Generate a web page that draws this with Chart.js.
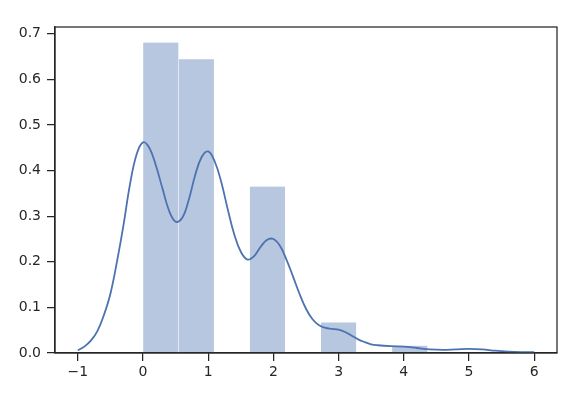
<!DOCTYPE html>
<html>
<head>
<meta charset="utf-8">
<script src="https://cdn.jsdelivr.net/npm/chart.js@4"></script>
<style>
  html, body { margin: 0; padding: 0; background: #fff; }
  #wrap { width: 586px; height: 400px; }
</style>
</head>
<body>
<div id="wrap"><canvas id="c" width="586" height="400"></canvas></div>
<script>
// Histogram bins (centres of 11 bins spanning 0..6) and densities
const binCenters = [0.273, 0.818, 1.364, 1.909, 2.455, 3.0, 3.545, 4.091, 4.636, 5.182, 5.727];
const binHeights = [0.681, 0.644, 0, 0.365, 0, 0.067, 0, 0.016, 0, 0, 0];

// KDE curve
const kdeX = [-1.0,-0.9,-0.8,-0.7,-0.6,-0.5,-0.4,-0.3,-0.2,-0.1,0.0,0.1,0.2,0.3,0.4,0.5,0.6,0.7,0.8,0.9,1.0,1.1,1.2,1.3,1.4,1.5,1.6,1.7,1.8,1.9,2.0,2.1,2.2,2.3,2.4,2.5,2.6,2.7,2.8,2.9,3.0,3.1,3.2,3.3,3.4,3.5,3.6,3.8,4.0,4.2,4.4,4.6,4.8,5.0,5.2,5.4,5.6,5.8,6.0];
const kdeY = [0.006,0.014,0.027,0.048,0.083,0.13,0.2,0.28,0.37,0.435,0.462,0.449,0.41,0.36,0.312,0.288,0.296,0.335,0.39,0.43,0.442,0.42,0.375,0.315,0.26,0.222,0.205,0.212,0.232,0.248,0.25,0.235,0.205,0.168,0.13,0.097,0.074,0.061,0.055,0.053,0.051,0.046,0.038,0.03,0.024,0.019,0.017,0.015,0.014,0.011,0.008,0.007,0.008,0.009,0.008,0.005,0.003,0.002,0.002];

const xTicks = [-1, 0, 1, 2, 3, 4, 5, 6];
const yTicks = [0.0, 0.1, 0.2, 0.3, 0.4, 0.5, 0.6, 0.7];

const INK = '#262626';
const BLUE = '#4C72B0';

const frame = {
  id: 'frame',
  afterDraw(chart) {
    const {ctx, chartArea: a} = chart;
    ctx.save();
    ctx.strokeStyle = INK;
    ctx.lineWidth = 1.25;
    ctx.strokeRect(a.left, a.top, a.right - a.left, a.bottom - a.top);
    ctx.restore();
  }
};

new Chart(document.getElementById('c'), {
  type: 'bar',
  data: {
    datasets: [
      {
        type: 'line',
        data: kdeX.map((x, i) => ({x, y: kdeY[i]})),
        borderColor: BLUE,
        borderWidth: 1.8,
        pointRadius: 0,
        tension: 0.4,
        fill: false,
        order: 0
      },
      {
        type: 'bar',
        data: binCenters.map((x, i) => ({x, y: binHeights[i]})),
        backgroundColor: 'rgba(76,114,176,0.4)',
        borderColor: 'rgba(255,255,255,0.55)',
        borderWidth: {left: 0.5, right: 0.5, top: 0, bottom: 0},
        barPercentage: 1.0,
        categoryPercentage: 1.0,
        order: 1
      }
    ]
  },
  options: {
    responsive: false,
    animation: false,
    devicePixelRatio: 1,
    layout: { padding: { top: 27, right: 29, left: 0, bottom: 0 } },
    plugins: { legend: { display: false }, tooltip: { enabled: false } },
    scales: {
      x: {
        type: 'linear',
        offset: false,
        min: -1.35,
        max: 6.35,
        afterBuildTicks(scale) { scale.ticks = xTicks.map(v => ({value: v})); },
        afterFit(scale) { scale.height = 47; },
        grid: { display: true, offset: false, drawOnChartArea: false, drawTicks: true, tickLength: 8, color: INK, lineWidth: 1.25 },
        border: { display: true, color: INK, width: 1.25 },
        ticks: {
          color: INK,
          font: { family: 'DejaVu Sans', size: 14 },
          padding: 3,
          maxRotation: 0,
          callback: v => String(v).replace('-', '\u2212')
        }
      },
      y: {
        min: 0,
        max: 0.715,
        afterBuildTicks(scale) { scale.ticks = yTicks.map(v => ({value: v})); },
        afterFit(scale) { scale.width = 55; },
        grid: { display: true, drawOnChartArea: false, drawTicks: true, tickLength: 8, color: INK, lineWidth: 1.25 },
        border: { display: true, color: INK, width: 1.25 },
        ticks: {
          color: INK,
          font: { family: 'DejaVu Sans', size: 14 },
          padding: 6,
          callback: v => Number(v).toFixed(1)
        }
      }
    }
  },
  plugins: [frame]
});
</script>
</body>
</html>
